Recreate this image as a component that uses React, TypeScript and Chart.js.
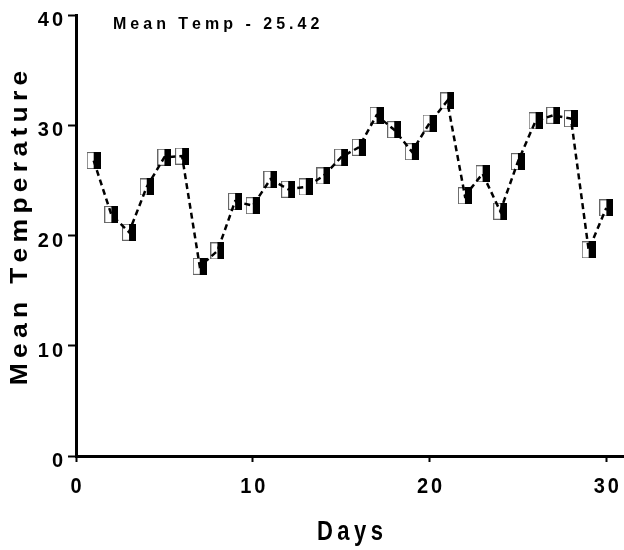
import React, { useEffect, useRef } from "react";
import { Chart, registerables } from "chart.js";

Chart.register(...registerables);

const days = [1, 2, 3, 4, 5, 6, 7, 8, 9, 10, 11, 12, 13, 14, 15, 16, 17, 18, 19, 20, 21, 22, 23, 24, 25, 26, 27, 28, 29, 30];
const meanTemps = [26.8, 21.9, 20.3, 24.4, 27.1, 27.2, 17.2, 18.6, 23.1, 22.7, 25.1, 24.2, 24.4, 25.4, 27.1, 28.0, 30.9, 29.6, 27.6, 30.2, 32.2, 23.6, 25.6, 22.2, 26.7, 30.4, 30.9, 30.6, 18.7, 22.5];
const xTicks = [0, 10, 20, 30];
const yTicks = [0, 10, 20, 30, 40];
const xTitle = "Days";
const yTitle = "Mean Temperature";
const annotation = "Mean Temp - 25.42";

const FONT = '"Liberation Sans", Arial, sans-serif';

function drawSpaced(
  ctx: CanvasRenderingContext2D,
  text: string,
  x: number,
  y: number,
  size: number,
  spacing: number,
  align: "left" | "center" | "right",
  sx = 1,
  sy = 1,
  rotate = 0
) {
  ctx.save();
  ctx.translate(x, y);
  if (rotate) ctx.rotate(rotate);
  ctx.scale(sx, sy);
  ctx.font = `bold ${size}px ${FONT}`;
  ctx.fillStyle = "#000";
  ctx.textAlign = "left";
  ctx.textBaseline = "alphabetic";
  const chars = Array.from(text);
  const widths = chars.map((c) => ctx.measureText(c).width);
  const total = widths.reduce((a, b) => a + b, 0) + spacing * (chars.length - 1);
  let cx = align === "center" ? -total / 2 : align === "right" ? -total : 0;
  chars.forEach((c, i) => {
    ctx.fillText(c, cx, 0);
    cx += widths[i] + spacing;
  });
  ctx.restore();
}

const textPlugin = {
  id: "customText",
  afterDraw(chart: any) {
    const ctx: CanvasRenderingContext2D = chart.ctx;
    const xs = chart.scales.x;
    const ys = chart.scales.y;
    const area = chart.chartArea;
    // x tick labels
    xTicks.forEach((v) => {
      const px = xs.getPixelForValue(v);
      drawSpaced(ctx, String(v), px, area.bottom + 37, 20, 3, "center", 1, 1.12);
    });
    // y tick labels
    yTicks.forEach((v) => {
      const py = ys.getPixelForValue(v);
      drawSpaced(ctx, String(v), area.left - 13, py + 11, 20, 3, "right");
    });
    // x title
    drawSpaced(ctx, xTitle, (area.left + area.right) / 2, area.bottom + 84, 22, 4.5, "center", 1, 1.25);
    // y title
    drawSpaced(ctx, yTitle, 27, 228, 23, 4.6, "center", 1.15, 1, -Math.PI / 2);
    // annotation
    drawSpaced(ctx, annotation, 113, 29, 16, 4, "left", 1, 1.05);
  },
};

function makeMarker(): HTMLCanvasElement {
  const c = document.createElement("canvas");
  c.width = 14;
  c.height = 17;
  const g = c.getContext("2d")!;
  g.fillStyle = "#fff";
  g.fillRect(0, 0, 14, 17);
  g.strokeStyle = "#666";
  g.lineWidth = 1;
  g.strokeRect(0.5, 0.5, 13, 16);
  g.fillStyle = "#000";
  g.fillRect(7, 0, 7, 17);
  return c;
}

export default function App() {
  const ref = useRef<HTMLCanvasElement | null>(null);

  useEffect(() => {
    document.body.style.margin = "0";
    if (!ref.current) return;
    const marker = makeMarker();
    const pts = days.map((d, i) => ({ x: d, y: meanTemps[i] }));
    const chart = new Chart(ref.current, {
      type: "line",
      data: {
        datasets: [
          {
            data: pts,
            showLine: false,
            pointStyle: marker as any,
            pointRadius: 7,
            order: 2,
          },
          {
            data: pts,
            borderColor: "#000",
            borderWidth: 2.5,
            borderDash: [6, 4],
            pointRadius: 0,
            fill: false,
            tension: 0,
            order: 1,
          },
        ],
      },
      options: {
        animation: false,
        responsive: false,
        devicePixelRatio: 1,
        layout: { autoPadding: false, padding: { top: 15, right: 0, left: 0, bottom: 0 } },
        plugins: {
          legend: { display: false },
          tooltip: { enabled: false },
          title: { display: false },
        },
        scales: {
          x: {
            type: "linear",
            min: 0,
            max: 31,
            afterBuildTicks: (s: any) => {
              s.ticks = xTicks.map((v) => ({ value: v }));
            },
            afterFit: (s: any) => {
              s.height = 94;
            },
            ticks: { display: false },
            grid: {
              drawOnChartArea: false,
              drawTicks: true,
              tickLength: 6,
              tickWidth: 2,
              color: "#000",
            },
            border: { display: true, color: "#000", width: 3 },
          },
          y: {
            type: "linear",
            min: 0,
            max: 40,
            afterBuildTicks: (s: any) => {
              s.ticks = yTicks.map((v) => ({ value: v }));
            },
            afterFit: (s: any) => {
              s.width = 76;
            },
            ticks: { display: false },
            grid: {
              drawOnChartArea: false,
              drawTicks: true,
              tickLength: 8,
              tickWidth: 2,
              color: "#000",
            },
            border: { display: true, color: "#000", width: 3 },
          },
        },
      },
      plugins: [textPlugin],
    });
    return () => chart.destroy();
  }, []);

  return (
    <div style={{ position: "absolute", left: 0, top: 0, width: 624, height: 550, background: "#fff" }}>
      <canvas ref={ref} width={624} height={550} style={{ width: 624, height: 550, display: "block" }} />
    </div>
  );
}
